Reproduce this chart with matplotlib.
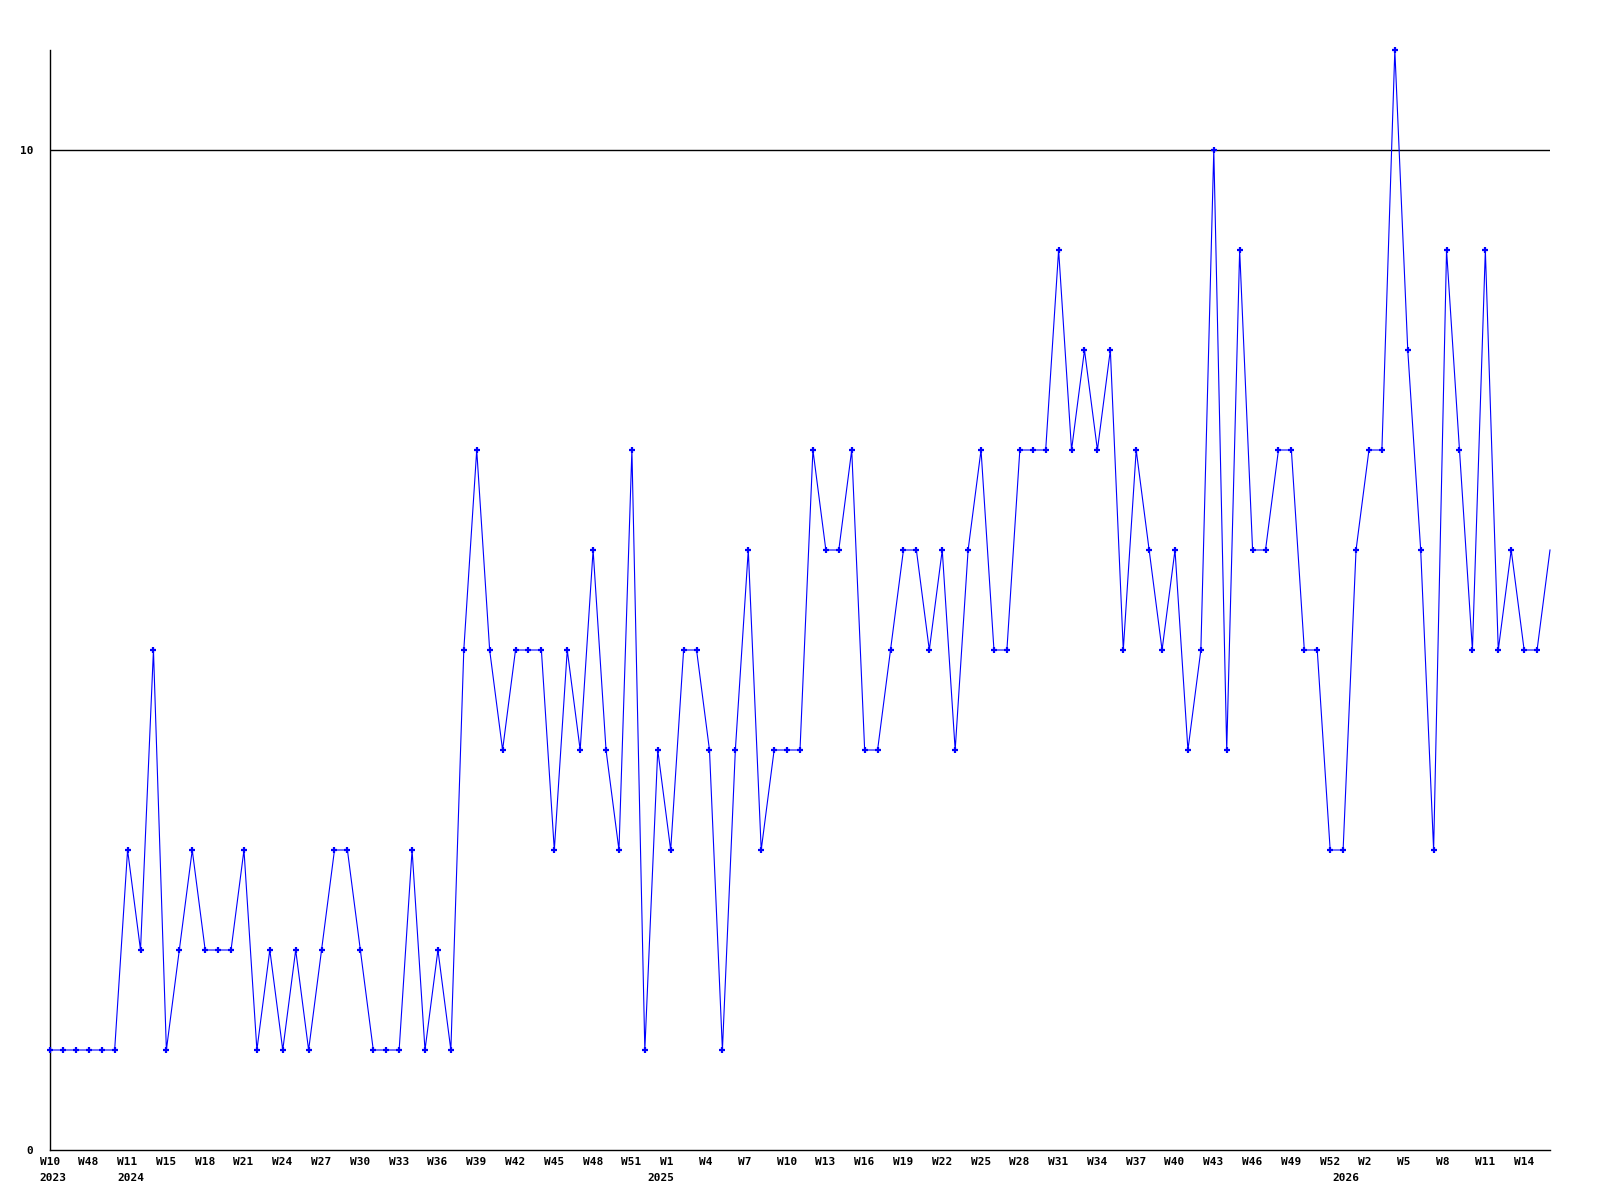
import matplotlib
matplotlib.use("Agg")
import matplotlib.pyplot as plt
from matplotlib.transforms import ScaledTranslation

values = [1, 1, 1, 1, 1, 1, 3, 2, 5, 1, 2, 3, 2, 2, 2, 3, 1, 2, 1, 2,
          1, 2, 3, 3, 2, 1, 1, 1, 3, 1, 2, 1, 5, 7, 5, 4, 5, 5, 5, 3,
          5, 4, 6, 4, 3, 7, 1, 4, 3, 5, 5, 4, 1, 4, 6, 3, 4, 4, 4, 7,
          6, 6, 7, 4, 4, 5, 6, 6, 5, 6, 4, 6, 7, 5, 5, 7, 7, 7, 9, 7,
          8, 7, 8, 5, 7, 6, 5, 6, 4, 5, 10, 4, 9, 6, 6, 7, 7, 5, 5, 3,
          3, 6, 7, 7, 11, 8, 6, 3, 9, 7, 5, 9, 5, 6, 5, 5, 6]

week_labels = ["W10", "W48", "W11", "W15", "W18", "W21", "W24", "W27",
               "W30", "W33", "W36", "W39", "W42", "W45", "W48", "W51",
               "W1", "W4", "W7", "W10", "W13", "W16", "W19", "W22",
               "W25", "W28", "W31", "W34", "W37", "W40", "W43", "W46",
               "W49", "W52", "W2", "W5", "W8", "W11", "W14"]

year_labels = ["2023", "2024", "2025", "2026"]
year_index = [0, 6, 47, 100]

y_ticks = [0, 10]

fig = plt.figure(figsize=(16, 12), dpi=100)
ax = fig.add_axes([50/1600, 50/1200, 1500/1600, 1100/1200])

x = list(range(len(values)))
ax.plot(x, values, color="#0000ff", linewidth=0.8, marker="+", markersize=4.5,
        markeredgewidth=1.6, markevery=list(range(len(values) - 1)), clip_on=False, zorder=3)

ax.set_xlim(0, len(values) - 1)
ax.set_ylim(0, 11)

for s in ["top", "right"]:
    ax.spines[s].set_visible(False)
for s in ["left", "bottom"]:
    ax.spines[s].set_color("black")
    ax.spines[s].set_linewidth(1.0)

ax.axhline(10, color="black", linewidth=1.0, zorder=1)

fp = dict(family="DejaVu Sans Mono", weight="bold", size=8)
ax.set_yticks(y_ticks)
ax.set_yticklabels([str(v) for v in y_ticks], **fp)
ax.tick_params(axis="y", length=0, pad=12)

ax.set_xticks(list(range(0, 3 * len(week_labels), 3)))
ax.set_xticklabels(week_labels, ha="left", **fp)
ax.tick_params(axis="x", length=0, pad=5)
off = ScaledTranslation(-10.5/100, 0, fig.dpi_scale_trans)
for lab in ax.get_xticklabels():
    lab.set_transform(lab.get_transform() + off)

for lab, pos in zip(year_labels, year_index):
    ax.annotate(lab, xy=(pos, 0), xycoords=("data", "axes fraction"),
                xytext=(-10.5 * 0.72, -(5 + 16.3 * 0.72)), textcoords="offset points",
                ha="left", va="top", annotation_clip=False, **fp)

fig.savefig("out.png", dpi=100, facecolor="white")
